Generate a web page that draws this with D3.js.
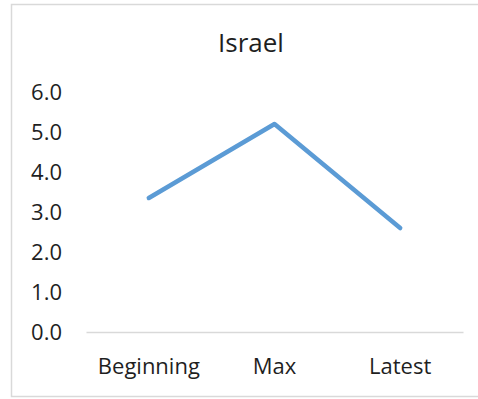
<!DOCTYPE html>
<html>
<head>
<meta charset="utf-8">
<script src="https://cdn.jsdelivr.net/npm/d3@7"></script>
<style>
  html, body { margin: 0; padding: 0; background: #fff; }
  svg { display: block; }
  text { font-family: "Open Sans", "Noto Sans", sans-serif; fill: #1f1f1f; }
</style>
</head>
<body>
<svg id="chart" width="478" height="399"></svg>
<script>
// Series data
const categories = ["Beginning", "Max", "Latest"];
const values = [3.35, 5.2, 2.6];
const yTicks = [0, 1, 2, 3, 4, 5, 6];
const title = "Israel";

const W = 478, H = 399;
const plot = { left: 86, right: 463, top: 92, bottom: 332 };

const svg = d3.select("#chart");

// chart frame
svg.append("rect")
  .attr("x", 11.5).attr("y", 4.5)
  .attr("width", 480).attr("height", 392)
  .attr("fill", "#fff")
  .attr("stroke", "#D9D9D9")
  .attr("stroke-width", 1.5);

const x = d3.scaleBand().domain(categories).range([plot.left, plot.right]);
const y = d3.scaleLinear().domain([0, 6]).range([plot.bottom, plot.top]);

// title
svg.append("text")
  .attr("x", 251).attr("y", 52)
  .attr("text-anchor", "middle")
  .style("font-size", "26px")
  .text(title);

// value axis (labels only)
const yAxis = svg.append("g")
  .attr("transform", `translate(${plot.left - 24},0)`)
  .call(d3.axisLeft(y).tickValues(yTicks).tickFormat(d3.format(".1f")).tickSize(0).tickPadding(0));
yAxis.select(".domain").remove();
yAxis.selectAll("text")
  .style("font-size", "22px")
  .style("font-family", "'Open Sans', sans-serif")
  .attr("fill", "#1f1f1f");

// category axis with baseline
const xAxis = svg.append("g")
  .attr("transform", `translate(0,${plot.bottom})`)
  .call(d3.axisBottom(x).tickSize(0).tickSizeOuter(0).tickPadding(26));
xAxis.select(".domain").attr("stroke", "#D9D9D9").attr("stroke-width", 1.5);
xAxis.selectAll("text")
  .style("font-size", "22px")
  .style("font-family", "'Open Sans', sans-serif")
  .attr("fill", "#1f1f1f");

// line series
const line = d3.line()
  .x((d, i) => x(categories[i]) + x.bandwidth() / 2)
  .y(d => y(d));

svg.append("path")
  .datum(values)
  .attr("fill", "none")
  .attr("stroke", "#5B9BD5")
  .attr("stroke-width", 4.5)
  .attr("stroke-linecap", "round")
  .attr("stroke-linejoin", "round")
  .attr("d", line);
</script>
</body>
</html>
